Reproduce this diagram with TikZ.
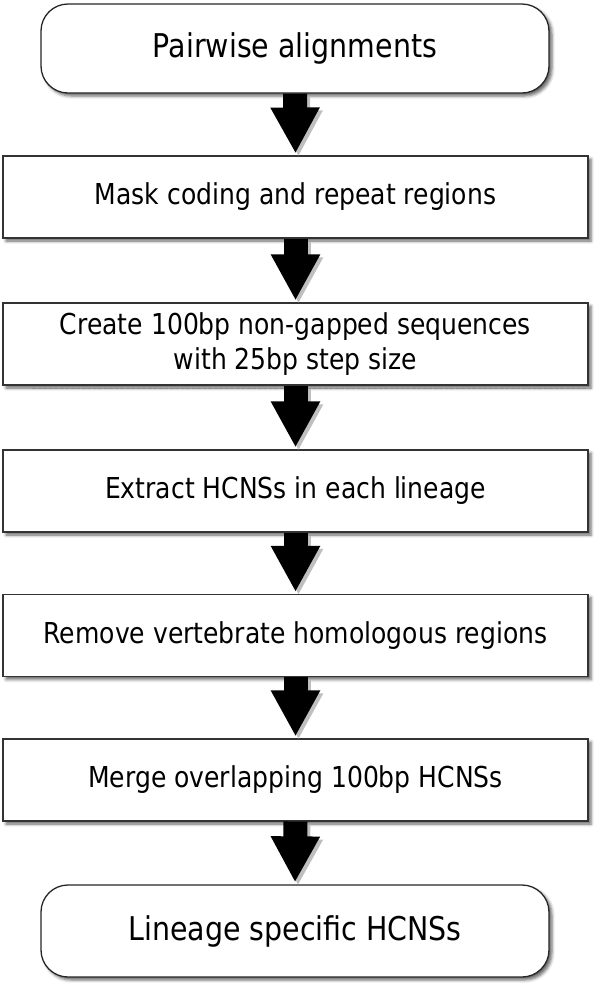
\documentclass[tikz,border=0pt]{standalone}
\usepackage{fontspec}
\setmainfont{DejaVu Sans}[FakeStretch=0.87]
\usetikzlibrary{arrows.meta,shadows.blur}
\tikzset{
  boxshadow/.style={blur shadow={shadow xshift=3pt, shadow yshift=-3pt, shadow blur radius=3pt, shadow opacity=60}},
  stepbox/.style={draw=black!80, line width=1.1pt, fill=white, minimum width=585pt, minimum height=82pt,
    inner sep=0pt, align=center, font=\fontsize{28.8}{35}\selectfont, boxshadow},
  termbox/.style={draw=black!85, line width=1.3pt, fill=white, rounded corners=27pt, minimum width=508pt,
    inner sep=0pt, align=center, font=\fontsize{32.7}{38}\selectfont, boxshadow},
  fatarrow/.style={line width=24pt, -{Triangle[width=46pt,length=46pt]}, black, shorten >=2pt},
  fatshadow/.style={line width=24pt, -{Triangle[width=46pt,length=46pt]}, black!25, shorten >=2pt}
}
\begin{document}
\begin{tikzpicture}[x=1pt,y=1pt]
\useasboundingbox (0,0) rectangle (603,-989);
\node[termbox, minimum height=89pt] (n1) at (295,-48.5) {Pairwise alignments};
\node[stepbox] (n2) at (295.5,-197) {Mask coding and repeat regions};
\node[stepbox] (n3) at (295.5,-344) {Create 100bp non-gapped sequences\\with 25bp step size};
\node[stepbox] (n4) at (295.5,-491) {Extract HCNSs in each lineage};
\node[stepbox] (n5) at (295.5,-635.5) {Remove vertebrate homologous regions};
\node[stepbox] (n6) at (295.5,-780) {Merge overlapping 100bp HCNSs};
\node[termbox, minimum height=92pt] (n7) at (295,-931) {Lineage specific HCNSs};
\draw[black!45, line width=1.4pt, dash pattern=on 4pt off 1.5pt] ([xshift=30pt,yshift=-3pt]n3.south west) -- ([xshift=-3pt,yshift=-3pt]n3.south east);
\foreach \a/\b in {n1/n2,n2/n3,n3/n4,n4/n5,n5/n6,n6/n7}{
  \draw[fatshadow, transform canvas={shift={(3pt,-3pt)}}] (\a.south) -- (\b.north);
  \draw[fatarrow] (\a.south) -- (\b.north);
}
\end{tikzpicture}
\end{document}
